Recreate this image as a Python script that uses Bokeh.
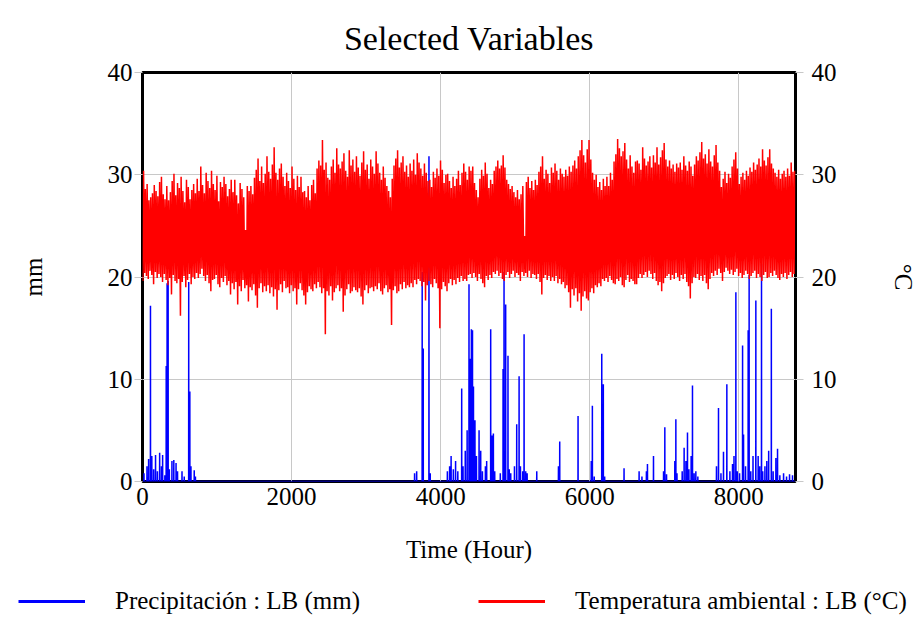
import numpy as np
from bokeh.plotting import figure
from bokeh.models import Range1d, LinearAxis, FixedTicker, Legend, LegendItem
from bokeh.embed import file_html
from bokeh.resources import INLINE

# ---------------- data ----------------
x_ticks = [0, 2000, 4000, 6000, 8000]
y_ticks = [0, 10, 20, 30, 40]

# daily maximum temperature (deg C), day 0..364
temp_max = [
    30.4, 28.6, 29.1, 27.5, 27.8, 28.2, 29.0, 28.4, 27.9, 29.3,
    29.8, 28.1, 27.6, 28.9, 27.5, 28.3, 29.4, 30.1, 28.0, 29.2,
    28.7, 29.8, 28.4, 27.3, 29.5, 28.8, 27.6, 28.5, 29.1, 28.2,
    29.6, 28.4, 30.8, 29.0, 28.2, 30.2, 29.4, 28.7, 30.4, 29.1,
    28.5, 29.9, 27.4, 29.3, 28.8, 29.8, 29.1, 27.9, 28.6, 29.5,
    28.3, 29.5, 28.0, 27.2, 29.2, 28.6, 27.8, 24.6, 28.9, 28.4,
    28.9, 28.1, 29.7, 30.5, 31.6, 29.4, 30.8, 29.2, 30.1, 31.8,
    30.3, 29.6, 31.0, 32.7, 30.2, 29.5, 30.6, 31.1, 29.8, 28.9,
    30.2, 29.4, 28.7, 30.8, 29.6, 28.5, 29.9, 28.8, 29.8, 28.3,
    28.4, 27.8, 28.9, 27.5, 29.0, 29.5, 28.2, 30.6, 31.4, 30.9,
    33.4, 30.5, 31.2, 29.7, 29.5, 30.8, 31.5, 30.2, 32.6, 31.0,
    30.6, 31.3, 32.1, 30.4, 29.8, 32.4, 30.9, 31.5, 30.3, 31.8,
    30.7, 29.9, 31.2, 32.3, 30.5, 31.0, 29.6, 31.5, 30.8, 30.1,
    32.3, 31.1, 30.2, 29.5, 30.8, 29.7, 28.9, 28.4, 27.8, 29.6,
    30.9, 31.6, 32.4, 30.7, 31.2, 31.8, 30.3, 30.9, 29.8, 31.1,
    30.4, 31.5, 30.0, 32.1, 31.2, 30.6, 29.9, 31.1, 30.2, 29.4,
    29.5, 28.8, 30.3, 29.7, 30.6, 29.9, 31.4, 30.5, 29.2, 30.0,
    30.1, 29.4, 28.7, 29.8, 28.9, 29.6, 30.4, 29.0, 30.2, 31.1,
    30.3, 29.5, 30.8, 30.4, 30.8, 29.2, 28.5, 27.8, 29.6, 30.5,
    29.9, 31.2, 30.1, 28.7, 29.5, 29.1, 30.4, 30.8, 31.4, 30.6,
    30.9, 31.9, 30.7, 29.5, 29.1, 28.6, 28.9, 28.3, 27.8, 28.5,
    27.6, 28.1, 28.9, 24.0, 29.3, 29.8, 28.7, 29.4, 28.5, 29.5,
    29.0, 30.3, 30.8, 31.8, 29.6, 30.5, 30.1, 29.2, 30.7, 30.2,
    31.1, 30.4, 29.5, 30.6, 30.1, 29.8, 30.5, 29.9, 30.8, 30.3,
    30.9, 31.4, 30.6, 31.8, 32.4, 33.4, 31.9, 31.2, 32.5, 33.4,
    31.5, 30.2, 29.5, 30.0, 28.8, 29.3, 28.5, 29.6, 28.9, 29.8,
    28.9, 30.2, 29.5, 31.3, 32.0, 33.5, 32.6, 31.8, 32.3, 33.1,
    31.5, 30.6, 31.9, 30.8, 30.2, 31.3, 31.4, 31.1, 30.5, 32.7,
    31.6, 30.9, 31.3, 31.8, 30.7, 31.9, 31.2, 32.7, 31.0, 31.7,
    32.4, 33.1, 31.5, 30.8, 31.4, 30.6, 31.0, 30.3, 31.1, 30.7,
    31.2, 30.5, 31.8, 30.9, 30.4, 31.3, 30.8, 29.9, 31.0, 31.8,
    31.4, 32.2, 33.2, 31.6, 32.0, 31.1, 32.5, 31.3, 30.8, 31.9,
    32.9, 31.2, 30.4, 28.8, 29.6, 30.3, 29.2, 30.1, 29.7, 30.8,
    31.5, 32.2, 30.6, 29.1, 29.8, 30.2, 29.5, 30.4, 29.9, 30.7,
    30.3, 31.2, 30.5, 31.0, 31.6, 30.8, 32.5, 31.4, 30.9, 31.7,
    32.5, 31.1, 30.6, 30.2, 29.8, 30.5, 29.6, 30.1, 30.4, 29.8,
    30.6, 29.9, 31.2, 30.3, 30.4,
]

# daily minimum temperature (deg C), day 0..364
temp_min = [
    19.6, 20.4, 20.1, 19.8, 20.6, 20.2, 19.3, 20.5, 19.9, 20.3,
    20.0, 19.5, 20.3, 19.7, 19.2, 19.9, 18.3, 20.2, 19.6, 19.4,
    19.8, 16.2, 19.5, 20.1, 19.0, 19.7, 20.3, 19.3, 20.0, 19.8,
    20.4, 19.9, 20.3, 20.8, 20.1, 19.6, 20.2, 19.4, 18.6, 19.7,
    19.8, 20.2, 19.3, 19.0, 19.9, 19.5, 20.1, 19.2, 19.6, 18.3,
    19.4, 18.8, 19.5, 17.3, 19.1, 18.6, 19.7, 18.9, 19.2, 17.6,
    19.0, 18.7, 19.3, 18.2, 17.0, 18.9, 19.4, 18.5, 19.1, 18.6,
    19.2, 18.4, 19.0, 18.1, 18.8, 16.8, 18.7, 19.3, 18.5, 19.6,
    18.9, 19.0, 18.4, 19.2, 18.6, 18.9, 17.3, 18.8, 19.4, 18.7,
    18.2, 17.3, 18.5, 19.1, 18.8, 18.6, 19.3, 18.9, 19.5, 19.0,
    18.4, 18.9, 14.4, 18.6, 18.2, 19.1, 17.7, 18.5, 18.9, 19.2,
    18.6, 18.9, 16.6, 18.2, 18.8, 19.3, 18.4, 18.6, 19.0, 18.7,
    18.5, 18.9, 18.1, 17.3, 18.7, 19.2, 18.4, 18.9, 19.0, 18.6,
    19.1, 18.8, 19.4, 18.6, 18.3, 18.9, 19.2, 18.5, 18.8, 15.3,
    18.7, 19.1, 18.4, 18.6, 19.3, 18.8, 19.5, 18.9, 19.2, 19.0,
    19.4, 19.0, 19.7, 19.3, 19.8, 19.6, 19.1, 19.5, 17.7, 19.2,
    19.6, 19.3, 19.0, 19.8, 19.4, 18.9, 15.0, 18.8, 19.5, 19.1,
    18.6, 19.4, 19.8, 19.2, 19.7, 19.3, 19.9, 19.5, 20.1, 19.6,
    19.8, 19.6, 20.2, 20.3, 19.9, 20.4, 20.0, 19.6, 20.3, 19.8,
    19.4, 19.0, 20.1, 19.7, 20.2, 19.9, 20.5, 20.3, 20.6, 20.1,
    20.4, 19.8, 19.6, 20.2, 20.5, 19.9, 20.3, 20.6, 20.0, 20.4,
    20.2, 19.6, 20.5, 20.1, 20.4, 20.0, 20.6, 19.9, 20.3, 20.2,
    19.8, 20.3, 19.5, 18.3, 19.9, 20.2, 19.7, 20.1, 19.6, 20.0,
    19.6, 20.1, 19.4, 19.8, 19.3, 19.5, 18.9, 19.2, 18.5, 17.0,
    18.8, 18.2, 18.9, 17.6, 18.4, 16.7, 18.1, 18.6, 17.9, 17.7,
    18.5, 18.9, 18.4, 19.2, 19.0, 19.4, 19.1, 19.8, 19.6, 19.9,
    19.5, 20.1, 19.7, 19.4, 19.3, 19.8, 19.6, 20.0, 19.2, 19.0,
    19.7, 20.2, 19.5, 19.8, 19.6, 19.3, 19.3, 19.9, 20.3, 19.9,
    20.2, 20.5, 20.0, 20.6, 20.3, 19.8, 20.4, 19.6, 19.2, 19.5,
    18.6, 19.4, 19.9, 20.1, 20.3, 19.7, 20.2, 19.8, 20.4, 20.0,
    19.6, 20.2, 19.8, 20.3, 19.5, 19.1, 17.9, 19.4, 20.0, 19.9,
    20.3, 19.7, 20.1, 19.6, 20.2, 19.4, 18.8, 19.8, 20.4, 20.1,
    20.6, 20.2, 20.8, 20.4, 19.6, 20.5, 20.9, 20.6, 20.3, 20.7,
    20.2, 20.5, 20.8, 20.1, 20.4, 19.9, 20.2, 20.6, 20.3, 19.8,
    20.1, 20.4, 20.6, 19.9, 20.3, 20.0, 19.6, 20.2, 20.5, 19.9,
    20.0, 20.4, 20.1, 20.6, 20.2, 19.9, 19.7, 20.3, 20.0, 20.4,
    19.8, 20.2, 20.5, 20.0, 20.3,
]

# rain events: hour of year and precipitation (mm)
rain_hours = [
    20, 60, 82, 107, 125, 150, 175, 200, 230, 255, 270, 300, 318, 330, 344,
    360, 395, 420, 450, 470, 530, 560, 620, 635, 650, 694, 710,
    3650, 3678, 3752, 3766, 3843, 3860,
    4090, 4120, 4140, 4170, 4200, 4230,
    4282, 4300, 4330, 4355, 4380, 4395, 4412, 4427, 4440, 4460, 4480, 4515,
    4537, 4560, 4600, 4617, 4671, 4690, 4707, 4725,
    4800, 4837, 4850, 4872, 4903, 4920, 4940,
    4990, 5020, 5052, 5070, 5100, 5119, 5141, 5160, 5289,
    5580, 5597, 5843, 6020, 6035, 6060, 6161, 6182, 6200,
    6460, 6662, 6700, 6760, 6774, 6855, 6990, 7007, 7030,
    7141, 7155, 7170, 7240, 7266, 7290, 7311, 7330, 7360, 7378, 7400, 7423, 7450,
    7700, 7727, 7760, 7794, 7839, 7880, 7915, 7935, 7960, 7980, 8010,
    8050, 8063, 8090, 8125, 8138, 8160, 8190, 8228, 8259, 8280, 8304,
    8320, 8350, 8375, 8400, 8436, 8460, 8497, 8519, 8550, 8600, 8640,
    8680, 8720,
]
rain_mm = [
    0.8, 1.5, 2.2, 17.2, 2.5, 1.2, 2.6, 1.0, 2.8, 1.5, 2.6, 0.6, 11.3, 19.4, 19.6,
    1.2, 2.0, 2.1, 1.8, 1.0, 1.0, 0.5, 19.5, 8.8, 1.5, 1.1, 0.5,
    0.8, 1.0, 20.5, 13.0, 31.8, 0.8,
    1.0, 1.5, 2.5, 1.2, 2.0, 1.0,
    9.1, 1.5, 3.0, 5.0, 19.3, 12.0, 14.9, 14.8, 9.3, 6.0, 2.5, 5.0,
    3.0, 1.0, 1.5, 2.0, 14.9, 4.5, 4.7, 1.0,
    0.8, 11.0, 20.5, 17.3, 12.3, 1.2, 0.8,
    1.5, 5.6, 10.3, 1.5, 1.0, 14.4, 1.0, 0.8, 1.0,
    1.5, 3.9, 6.4, 2.0, 7.4, 0.5, 12.5, 9.5, 0.5,
    1.3, 1.0, 0.5, 1.0, 1.7, 2.5, 1.0, 5.3, 0.7,
    2.0, 6.1, 0.8, 1.0, 3.3, 2.0, 4.8, 1.2, 2.5, 9.4, 0.8, 1.0, 0.5,
    1.5, 7.2, 0.8, 2.9, 9.5, 1.0, 1.7, 2.5, 18.5, 1.0, 0.8,
    13.3, 4.6, 1.5, 14.8, 20.2, 1.0, 2.5, 17.7, 2.5, 1.5, 21.3,
    1.0, 1.5, 2.0, 3.0, 16.9, 1.0, 2.3, 3.2, 0.6, 0.8, 0.5,
    0.7, 0.6,
]

legend_labels = ["Precipitación : LB (mm)", "Temperatura ambiental : LB (°C)"]
series_colors = ["#0000ff", "#ff0000"]

# ---------------- series built from the data ----------------
temp_x, temp_y = [], []
for d, (lo, hi) in enumerate(zip(temp_min, temp_max)):
    temp_x += [d * 24 + 5, d * 24 + 14]
    temp_y += [lo, hi]

hours = np.arange(8761)
rain = np.zeros(8761)
for h, v in zip(rain_hours, rain_mm):
    rain[h] = v

FONT = "Liberation Serif"
GRID = "#c8c8c8"
FS = "25px"

p = figure(width=921, height=581, output_backend="svg", toolbar_location=None,
           x_range=Range1d(0, 8760), y_range=Range1d(0, 40),
           min_border_left=142, min_border_right=126,
           min_border_top=72, min_border_bottom=100)
p.extra_y_ranges = {"temp": Range1d(0, 40)}

p.background_fill_color = "white"
p.border_fill_color = "white"
p.outline_line_color = "black"
p.outline_line_width = 3

# title
p.title.text = "Selected Variables"
p.title.align = "center"
p.title.text_font = FONT
p.title.text_font_size = "34px"
p.title.text_font_style = "normal"
p.title.text_color = "black"
p.title.standoff = 31

# grids
p.xgrid.ticker = FixedTicker(ticks=x_ticks)
p.ygrid.ticker = FixedTicker(ticks=y_ticks)
p.xgrid.grid_line_color = GRID
p.ygrid.grid_line_color = GRID
p.xgrid.grid_line_width = 1
p.ygrid.grid_line_width = 1

def style_axis(ax, label, tick_out, label_standoff, major_standoff):
    ax.axis_label = label
    ax.axis_label_text_font = FONT
    ax.axis_label_text_font_size = FS
    ax.axis_label_text_font_style = "normal"
    ax.axis_label_text_color = "black"
    ax.axis_label_standoff = label_standoff
    ax.major_label_text_font = FONT
    ax.major_label_text_font_size = FS
    ax.major_label_text_color = "black"
    ax.major_label_standoff = major_standoff
    ax.axis_line_color = None
    ax.major_tick_line_color = GRID
    ax.major_tick_out = tick_out
    ax.major_tick_in = 0
    ax.minor_tick_line_color = None

xax = p.xaxis[0]
xax.ticker = FixedTicker(ticks=x_ticks)
style_axis(xax, "Time (Hour)", 0, 28, 6)

yax = p.yaxis[0]
yax.ticker = FixedTicker(ticks=y_ticks)
style_axis(yax, "mm", 8, 58, 2)

rax = LinearAxis(y_range_name="temp", ticker=FixedTicker(ticks=y_ticks))
style_axis(rax, "°C", 8, 50, 8)
p.add_layout(rax, "right")

# data lines (precipitation under temperature)
p.line(hours, rain, line_color=series_colors[0], line_width=1.5)
p.line(temp_x, temp_y, line_color=series_colors[1], line_width=1.5, y_range_name="temp")

# ---------------- legend strip (separate root, full-width frame) ----------------
lf = figure(width=921, height=37, output_backend="svg", toolbar_location=None,
            title=None, x_range=Range1d(0, 1), y_range=Range1d(0, 1),
            x_axis_type=None, y_axis_type=None,
            min_border=0, min_border_left=0, min_border_right=0,
            min_border_top=0, min_border_bottom=0)
lf.outline_line_color = None
lf.background_fill_color = "white"
lf.border_fill_color = "white"
items = []
for lab, col in zip(legend_labels, series_colors):
    r = lf.line([np.nan], [np.nan], line_color=col, line_width=3)
    items.append(LegendItem(label=lab, renderers=[r]))
legend = Legend(items=items, orientation="horizontal", location=(18, 3),
                glyph_width=67, glyph_height=20, label_standoff=30, spacing=118,
                padding=0, margin=0, border_line_color=None,
                background_fill_alpha=0)
legend.label_text_font = FONT
legend.label_text_font_size = FS
legend.label_text_color = "black"
lf.add_layout(legend, "center")

open("out.html", "w").write(file_html([p, lf], INLINE))
